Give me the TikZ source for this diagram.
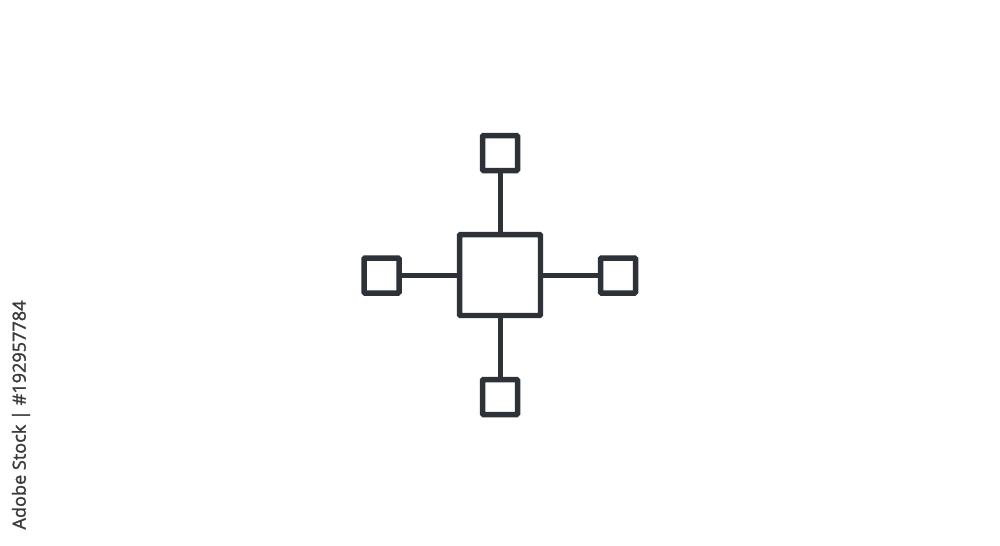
\documentclass[tikz,border=0pt]{standalone}
\usepackage{fontspec}
\setmainfont{Open Sans}
\newfontfamily\stockfont[FakeBold=1.6]{Open Sans}
\begin{document}
\begin{tikzpicture}[x=0.02cm,y=-0.02cm,
  icon/.style={draw=iconc,line width=0.11cm,rounded corners=0.6pt,inner sep=0pt,outer sep=0pt,fill=white},
  leaf/.style={icon,minimum size=0.7cm},
  hub/.style={icon,minimum size=1.62cm},
  link/.style={draw=iconc,line width=0.1cm}]
\definecolor{iconc}{HTML}{2D3239}
\definecolor{stockc}{HTML}{3A3A3A}
\useasboundingbox[fill=white] (0,0) rectangle (1000,545);
\node[hub] (c) at (500,275) {};
\node[leaf] (t) at (500,153) {};
\node[leaf] (b) at (500,397) {};
\node[leaf] (l) at (381.5,275.5) {};
\node[leaf] (r) at (618,275.5) {};
\draw[link] (t.south) -- (c.north);
\draw[link] (b.north) -- (c.south);
\draw[link] (l.east) -- (l.east -| c.west);
\draw[link] (r.west) -- (r.west -| c.east);
\node[rotate=90,text=stockc,font=\stockfont\fontsize{10.3pt}{12pt}\selectfont,inner sep=0pt] (s) at (21,415) {Adobe Stock | \#192957784};
\end{tikzpicture}
\end{document}
